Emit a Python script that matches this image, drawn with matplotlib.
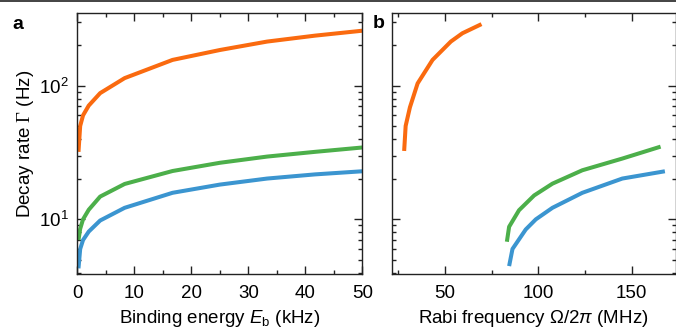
import matplotlib.pyplot as plt
from matplotlib.lines import Line2D
from matplotlib.ticker import MultipleLocator, LogLocator, NullFormatter

plt.rcParams['font.family'] = ['Liberation Sans', 'DejaVu Sans']
plt.rcParams['mathtext.fontset'] = 'custom'
plt.rcParams['mathtext.rm'] = 'Liberation Serif'
plt.rcParams['mathtext.it'] = 'Liberation Sans:italic'
plt.rcParams['mathtext.sf'] = 'Liberation Sans'

# -----------------------------
# data
# -----------------------------
# panel a: decay rate vs binding energy
eb = [0.2, 0.5, 1, 2, 4, 8.3, 16.7, 25, 33.3, 41.7, 50]
gamma_orange_a = [32, 50, 60, 71, 88, 114, 156, 185, 214, 237, 258]
gamma_green_a = [7, 8.5, 10, 11.8, 14.8, 18.4, 23, 26.5, 29.5, 32, 34.5]
gamma_blue_a = [4.3, 6.0, 7.0, 8.1, 9.8, 12.2, 15.8, 18.2, 20.2, 21.7, 22.9]

# panel b: decay rate vs Rabi frequency
rabi_orange = [28.2, 29, 31.3, 35.4, 43.4, 53.2, 59.4, 69.6]
gamma_orange_b = [32.5, 50, 69, 104, 156, 214, 247, 289]
rabi_green = [83.2, 84.4, 89.7, 97.8, 107.6, 123.6, 145, 165.5]
gamma_green_b = [6.8, 8.8, 11.7, 15.1, 18.5, 23.3, 28.5, 35]
rabi_blue = [84.4, 86.2, 93.3, 98.7, 107.6, 123.6, 145, 167.8]
gamma_blue_b = [4.47, 6.0, 8.4, 10, 12.2, 15.8, 20.2, 22.9]

c_orange = '#fa6a0f'
c_green = '#4caf4a'
c_blue = '#3b95d0'
lw = 2.9
fs = 13.5

fig = plt.figure(figsize=(6.76, 3.32), dpi=100)
ax_a = fig.add_axes([0.1144, 0.1747, 0.4216, 0.7861])
ax_b = fig.add_axes([0.5799, 0.1747, 0.4194, 0.7861])

ax_a.plot(eb, gamma_orange_a, color=c_orange, lw=lw, solid_capstyle='butt')
ax_a.plot(eb, gamma_green_a, color=c_green, lw=lw, solid_capstyle='butt')
ax_a.plot(eb, gamma_blue_a, color=c_blue, lw=lw, solid_capstyle='butt')

ax_b.plot(rabi_orange, gamma_orange_b, color=c_orange, lw=lw, solid_capstyle='butt')
ax_b.plot(rabi_green, gamma_green_b, color=c_green, lw=lw, solid_capstyle='butt')
ax_b.plot(rabi_blue, gamma_blue_b, color=c_blue, lw=lw, solid_capstyle='butt')

for ax in (ax_a, ax_b):
    ax.set_yscale('log')
    ax.set_ylim(3.9, 350)
    ax.yaxis.set_major_locator(LogLocator(base=10, numticks=10))
    ax.yaxis.set_minor_locator(LogLocator(base=10, subs=range(2, 10), numticks=20))
    ax.yaxis.set_minor_formatter(NullFormatter())
    ax.tick_params(which='both', direction='in', top=True, right=True,
                   width=1.0, labelsize=fs, color='#222222')
    ax.tick_params(which='major', length=5.8)
    ax.tick_params(which='minor', length=3.0)
    ax.tick_params(axis='x', pad=8)
    ax.tick_params(axis='y', pad=6)
    for s in ax.spines.values():
        s.set_linewidth(1.0)
        s.set_color('#222222')

ax_a.set_xlim(0, 50)
ax_a.xaxis.set_major_locator(MultipleLocator(10))
ax_a.xaxis.set_minor_locator(MultipleLocator(5))
ax_a.set_xlabel('Binding energy $E_{\\mathsf{b}}$ (kHz)', fontsize=fs, labelpad=4)
ax_a.set_ylabel('Decay rate $\\Gamma$ (Hz)', fontsize=fs, labelpad=2)

ax_b.set_xlim(21.7, 173.5)
ax_b.xaxis.set_major_locator(MultipleLocator(50))
ax_b.xaxis.set_minor_locator(MultipleLocator(25))
ax_b.tick_params(axis='y', labelleft=False)
ax_b.set_xlabel('Rabi frequency \u03a9/2$\\pi$ (MHz)', fontsize=fs, labelpad=4)

fig.text(0.019, 0.925, 'a', fontsize=14, fontweight='bold', va='center')
fig.text(0.552, 0.930, 'b', fontsize=14, fontweight='bold', va='center')

# thin rule across the top of the figure
fig.add_artist(Line2D([0, 1], [0.997, 0.997], transform=fig.transFigure,
                      color='#222222', lw=1.2))

fig.savefig('out.png', dpi=100)
